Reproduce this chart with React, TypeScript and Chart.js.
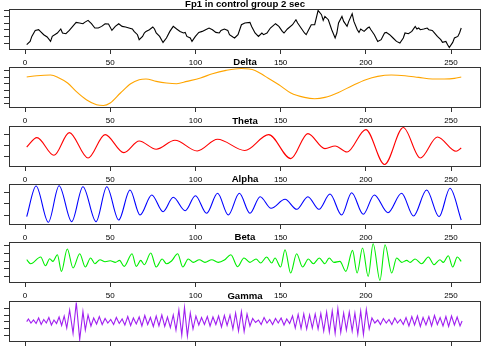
import React, { useEffect, useRef } from "react";
import { Chart, registerables } from "chart.js";

Chart.register(...registerables);

// ---------- data (sample index, amplitude in panel units 0..40) ----------
const xTickValues = [0, 50, 100, 150, 200, 250];
const panelTitles = ["Fp1 in control group 2 sec", "Delta", "Theta", "Alpha", "Beta", "Gamma"];

const fp1X = [
  1, 3, 4, 6, 8, 9, 11, 13, 15, 16,
  19, 21, 22, 24, 26, 28, 30, 32, 34, 35,
  37, 39, 41, 43, 45, 47, 49, 51, 53, 55,
  57, 59, 61, 63, 64, 66, 67, 69, 70, 71,
  73, 75, 76, 77, 79, 81, 83, 85, 87, 89,
  91, 93, 94, 95, 97, 98, 100, 102, 104, 106,
  108, 110, 112, 114, 115, 117, 119, 120, 122, 123,
  125, 127, 129, 132, 133, 135, 137, 139, 140, 142,
  144, 147, 149, 151, 152, 154, 157, 159, 160, 162,
  164, 165, 167, 168, 170, 172, 174, 175, 176, 178,
  180, 182, 183, 184, 186, 187, 189, 190, 192, 193,
  195, 196, 197, 199, 201, 202, 203, 205, 207, 209,
  211, 212, 214, 216, 218, 220, 222, 223, 225, 227,
  229, 230, 231, 232, 234, 236, 237, 239, 240, 242,
  244, 245, 247, 248, 249, 251, 252, 254, 255, 256,
];
const fp1Y = [
  4.3, 7.6, 12.6, 18.6, 19.3, 17.6, 14.3, 12, 7.6, 12.6,
  16, 20, 16, 15.3, 18.6, 22.6, 26.6, 26, 25.3, 26.6,
  28.6, 25.3, 21, 21, 22.6, 25.3, 25, 18.6, 22.6, 25.3,
  22.6, 22, 21, 20, 17.6, 14.3, 9.3, 12.6, 16, 17.6,
  19.3, 22, 20, 16, 12.6, 6.6, 11, 17.6, 22.6, 20,
  17.6, 16, 16.6, 12.6, 11, 7.6, 12.6, 16.6, 17.6, 19.3,
  21, 19.3, 16.6, 16, 18.6, 20, 18.6, 14.3, 12, 11,
  14.3, 24.3, 26, 26.6, 22.6, 16, 12.6, 16, 14.3, 16,
  21, 25.3, 22.6, 17.6, 16, 20, 24.3, 29.3, 26, 21,
  16, 14.3, 21, 24.3, 24.3, 38.5, 34.3, 28.6, 32.6, 29.3,
  19.3, 11, 16, 26, 32.6, 27.6, 22.6, 27.6, 35.3, 27.6,
  19.3, 16.6, 20, 17.6, 21, 22, 19.3, 14.3, 7.6, 9.3,
  16, 16.6, 14.3, 11, 7.6, 6, 11, 16, 15.3, 17.6,
  22.6, 20, 21, 19.3, 20, 21, 19.3, 18.6, 16.6, 12.6,
  9.3, 6.6, 7.6, 4.3, 1.5, 6.6, 11, 12.6, 16, 21,
];

const deltaX = [
  1, 7, 15, 20, 25, 30, 36, 42, 46, 50,
  56, 62, 67, 71, 77, 83, 89, 95, 103, 110,
  118, 127, 135, 141, 149, 156, 164, 170, 176, 184,
  192, 200, 207, 215, 223, 231, 239, 246, 252, 256,
];
const deltaY = [
  30, 31.3, 32, 29, 24, 15.6, 7.3, 2.3, 1.5, 4,
  14, 23.3, 27.3, 28, 25.6, 24, 23.3, 25.6, 29, 33.3,
  36.6, 38.5, 36.6, 30.6, 22.3, 14, 9.6, 8.3, 9.6, 14.6,
  21.3, 27.3, 30.6, 32, 31.3, 29.6, 28, 28, 28.6, 30,
];

const thetaX = [
  1, 7, 17, 26, 37, 47, 58, 67, 77, 88,
  101, 113, 129, 143, 156, 166, 176, 182, 189, 200,
  211, 222, 232, 242, 253, 256,
];
const thetaY = [
  19, 28.4, 10.7, 33.4, 8, 31.4, 13.4, 25, 16.7, 25.7,
  15, 26.7, 15.5, 31.4, 7.4, 32.4, 17.4, 20, 14, 36.4,
  1.5, 38.5, 8, 29, 14.7, 18,
];

const alphaX = [
  1, 6.5, 13.7, 20, 27.4, 34, 41.7, 48, 55, 61.6,
  67.5, 74.4, 81, 87, 94, 100, 106.6, 113, 119.3, 125.8,
  132, 138, 144.4, 152.6, 159.5, 166, 172.5, 179, 185.8, 191.7,
  198.5, 205, 213, 221, 228, 235.7, 243, 249.4, 256,
];
const alphaY = [
  7.3, 38, 1.7, 38.3, 2.3, 37.3, 2.3, 37.3, 4, 34,
  9, 29, 12.3, 26.7, 13.3, 28.3, 10.7, 30.7, 9, 30.7,
  10.7, 27.3, 15.7, 24.7, 14.7, 27.3, 14.7, 30, 9, 31.3,
  9.7, 29, 11.3, 30.7, 8, 34, 7.3, 35.7, 4,
];

const betaX = [
  1, 3.3, 9.2, 12, 14.5, 16.4, 19, 21.4, 24.8, 28.2,
  32.1, 35.4, 38.5, 41, 44, 47, 50, 53, 55.5, 58.2,
  62.8, 65.3, 67.9, 70, 73.8, 77, 80.5, 83, 86, 89.6,
  92.6, 95.8, 98.8, 102.3, 105.6, 109.6, 113.4, 117, 120.8, 124.8,
  128.5, 132, 135.6, 138.3, 141.8, 144.8, 146.7, 150, 152.6, 155.9,
  159.4, 162.9, 166.3, 169.2, 172.7, 176, 178.5, 181.3, 184.8, 188.3,
  192.2, 194.9, 198.1, 201.4, 204.3, 208.3, 211.3, 215.2, 218.1, 221.1,
  224, 226, 228.9, 232.8, 236.7, 240, 243.5, 245.5, 248.4, 251,
  253.7, 256,
];
const betaY = [
  22.3, 18.3, 25, 16.3, 23.3, 20.6, 27.3, 10.6, 33, 14,
  28.3, 15, 24, 18.3, 22.3, 20.3, 21.2, 19.6, 21.6, 15.6,
  28.3, 15.6, 21.6, 17.3, 29, 15, 23, 18.3, 21, 28.3,
  15, 23, 19.6, 22.3, 19.6, 22.3, 19.6, 22, 27.3, 15.3,
  24, 19.6, 23, 19, 25, 19, 24, 15, 32.3, 9,
  28.3, 15, 23, 18.3, 24, 18.3, 24, 19.6, 20.6, 10.6,
  31.6, 9, 34, 5.6, 38.3, 1.6, 37.3, 9, 24, 19.6,
  21.6, 19.6, 23, 18.3, 25, 17.3, 22.3, 19.6, 26.3, 15,
  25, 20.6,
];

const gammaX = [
  1, 2, 3.5, 5, 6.5, 8, 9.5, 11, 12.5, 14,
  15.5, 17, 18.5, 20, 21.5, 23, 24.5, 26.2, 28.2, 30.1,
  32.1, 34, 35.4, 37, 38.7, 40.3, 42, 43.6, 45.3, 47,
  48.6, 50.3, 52, 53.6, 55.3, 57, 58.6, 60.3, 62, 63.6,
  65.3, 67, 68.6, 70.3, 72, 73.6, 75.3, 77, 78.6, 80.3,
  82, 83.6, 85.3, 87, 88.6, 90.3, 92, 93.6, 95.3, 97,
  98.6, 100.3, 102, 103.6, 105.3, 107, 108.6, 110.3, 112, 113.6,
  115.3, 117, 118.6, 120.3, 122, 123.6, 125.3, 127, 128.6, 130.3,
  132, 133.6, 135.3, 137, 138.6, 140.3, 142, 143.6, 145.3, 147,
  148.6, 150.3, 152, 153.6, 155.3, 157, 158.6, 160.3, 162, 163.6,
  165.3, 167, 168.6, 170.3, 172, 173.6, 175.3, 177, 178.6, 180.3,
  182, 183.6, 185.3, 187, 188.6, 190.3, 192, 193.6, 195.3, 197,
  198.6, 200.3, 202, 203.6, 205.3, 207, 208.6, 210.3, 212, 213.6,
  215.3, 217, 218.6, 220.3, 222, 223.6, 225.3, 227, 228.6, 230.3,
  232, 233.6, 235.3, 237, 238.6, 240.3, 242, 243.6, 245.3, 247,
  248.6, 250.3, 252, 253.6, 255.3, 256.5,
];
const gammaY = [
  19.4, 22, 18, 21, 17.5, 23, 16.5, 21.5, 18, 23.5,
  16, 21, 17.5, 24, 15.5, 25, 13, 31, 7.7, 38.5,
  1.5, 29.4, 11, 26, 15, 23, 17, 24.5, 16.5, 22.5,
  18, 21.5, 16.5, 23.5, 17.5, 22, 16, 24.5, 15.5, 23,
  17, 24, 15, 25.5, 16.5, 23.5, 14.5, 25, 15, 26,
  14.5, 24, 13.5, 26, 11, 31, 6, 33.4, 5, 28,
  12, 25, 16, 23.5, 16.5, 24.5, 15, 24, 16.5, 25,
  14, 25.5, 15.5, 26, 12, 28, 10, 29.4, 9.4, 27,
  15, 22.5, 18.5, 21, 16.5, 23.5, 18, 21.5, 16.5, 22.5,
  18, 23, 16, 22, 17.5, 25, 13, 26.5, 12.5, 27,
  12, 26, 13, 27, 12, 27.5, 10, 29, 9, 30,
  7.7, 32.5, 8.5, 28, 11, 29, 10, 28, 7, 30,
  6.5, 31.5, 12, 23, 18, 21, 16.5, 22.5, 18, 21.5,
  16.5, 23, 18, 21.5, 16.5, 23.5, 15, 24.5, 16, 25,
  14.5, 23.5, 16, 24.5, 15, 25.5, 16.5, 23.5, 15, 24.5,
  14.5, 25, 16, 24, 15, 20,
];

const fp1Ticks = [5.9, 12.5, 19.1, 25.7, 32.3, 38.9];
const deltaTicks = [3.3, 9.95, 16.6, 23.25, 29.9, 36.55];
const thetaTicks = [10, 20.7, 31.4];
const alphaTicks = [9, 20.3, 31.6];
const betaTicks = [5.4, 13.1, 20.8, 28.5, 36.2];
const gammaTicks = [6, 12.7, 19.4, 26, 32.8];

// ---------- layout / style ----------
const FONT = '"Liberation Sans", Arial, Helvetica, sans-serif';
const PANEL_TOPS = [9, 67, 126, 184, 242, 301];
const TITLE_SPACE = 14;
const PLOT_H = 40;
const AXIS_SPACE = 22;
const CANVAS_W = 490;
const CANVAS_H = TITLE_SPACE + PLOT_H + AXIS_SPACE;
const X_MIN = -9.39;
const X_MAX = 267.6;
const AXIS_COLOR = "#333";

const panels = [
  { title: panelTitles[0], xs: fp1X, ys: fp1Y, color: "#000000", yTicks: fp1Ticks, smooth: false },
  { title: panelTitles[1], xs: deltaX, ys: deltaY, color: "#FFA500", yTicks: deltaTicks, smooth: true },
  { title: panelTitles[2], xs: thetaX, ys: thetaY, color: "#FF0000", yTicks: thetaTicks, smooth: true },
  { title: panelTitles[3], xs: alphaX, ys: alphaY, color: "#0000FF", yTicks: alphaTicks, smooth: true },
  { title: panelTitles[4], xs: betaX, ys: betaY, color: "#00EE00", yTicks: betaTicks, smooth: true },
  { title: panelTitles[5], xs: gammaX, ys: gammaY, color: "#A020F0", yTicks: gammaTicks, smooth: false },
];

const boxPlugin = {
  id: "rbox",
  afterDatasetsDraw(chart: any) {
    const { ctx, chartArea: a } = chart;
    ctx.save();
    ctx.strokeStyle = AXIS_COLOR;
    ctx.lineWidth = 1;
    ctx.strokeRect(
      Math.round(a.left) + 0.5,
      Math.round(a.top) + 0.5,
      Math.round(a.right - a.left) - 1,
      Math.round(a.bottom - a.top)
    );
    ctx.restore();
  },
};

export default function App() {
  const refs = useRef<(HTMLCanvasElement | null)[]>([]);

  useEffect(() => {
    const charts = panels.map((p, i) => {
      const canvas = refs.current[i] as HTMLCanvasElement;
      return new Chart(canvas, {
        type: "line",
        data: {
          datasets: [
            {
              data: p.xs.map((x, j) => ({ x, y: p.ys[j] })),
              borderColor: p.color,
              borderWidth: 1.1,
              pointRadius: 0,
              fill: false,
              tension: p.smooth ? 0.4 : 0,
              cubicInterpolationMode: p.smooth ? "monotone" : "default",
            },
          ],
        },
        options: {
          animation: false,
          responsive: false,
          maintainAspectRatio: false,
          devicePixelRatio: 1,
          events: [],
          layout: { padding: { top: 0.18, left: 0, right: 9, bottom: 0 } },
          plugins: {
            legend: { display: false },
            tooltip: { enabled: false },
            title: {
              display: true,
              text: p.title,
              fullSize: false,
              color: "#000",
              font: { family: FONT, size: 9.6, weight: "bold", lineHeight: 0.9 },
              padding: { top: 5.18, bottom: 0 },
            },
          },
          scales: {
            x: {
              type: "linear",
              position: "bottom",
              min: X_MIN,
              max: X_MAX,
              afterBuildTicks: (s: any) => {
                s.ticks = xTickValues.map((v) => ({ value: v }));
              },
              afterFit: (s: any) => {
                s.height = AXIS_SPACE;
              },
              grid: {
                display: true,
                drawOnChartArea: false,
                drawTicks: true,
                tickLength: 5,
                color: AXIS_COLOR,
                lineWidth: 1,
              },
              border: { display: false },
              ticks: {
                color: "#000",
                font: { family: FONT, size: 8 },
                padding: 3.5,
                maxRotation: 0,
                minRotation: 0,
                autoSkip: false,
              },
            },
            y: {
              type: "linear",
              position: "left",
              min: 0,
              max: 40,
              afterBuildTicks: (s: any) => {
                s.ticks = p.yTicks.map((v) => ({ value: v }));
              },
              afterFit: (s: any) => {
                s.width = 9;
              },
              grid: {
                display: true,
                drawOnChartArea: false,
                drawTicks: true,
                tickLength: 5,
                color: AXIS_COLOR,
                lineWidth: 1,
              },
              border: { display: false },
              ticks: { display: false },
            },
          },
        },
        plugins: [boxPlugin],
      } as any);
    });
    return () => charts.forEach((c) => c.destroy());
  }, []);

  return (
    <div
      style={{
        position: "fixed",
        left: 0,
        top: 0,
        width: CANVAS_W,
        height: 350,
        overflow: "hidden",
        background: "#fff",
      }}
    >
      {panels.map((p, i) => (
        <canvas
          key={p.title}
          ref={(el) => {
            refs.current[i] = el;
          }}
          width={CANVAS_W}
          height={CANVAS_H}
          style={{
            position: "absolute",
            left: 0,
            top: PANEL_TOPS[i] - TITLE_SPACE,
            width: CANVAS_W,
            height: CANVAS_H,
            display: "block",
          }}
        />
      ))}
    </div>
  );
}
